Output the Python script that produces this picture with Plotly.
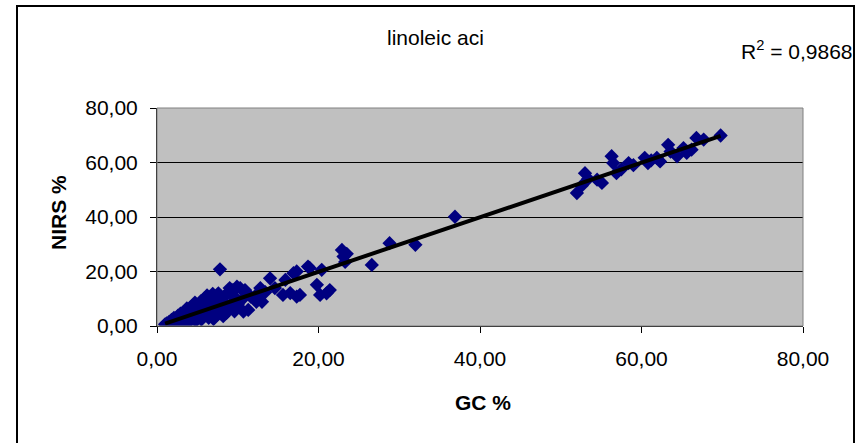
import numpy as np
import plotly.graph_objects as go

# GC % (x) and NIRS % (y) values
gc_low = [1.0, 1.2, 1.3, 1.5, 1.6, 1.8, 1.9, 2.0, 2.1, 2.2, 2.3, 2.4, 2.5, 2.6, 2.7, 2.8, 2.9,
          3.0, 3.1, 3.2, 3.3, 3.4, 3.5, 3.6, 3.7, 3.8, 3.9, 4.0, 4.1, 4.2, 4.3, 4.4, 4.5,
          4.6, 4.7, 4.8, 4.9, 5.0, 5.1, 5.2, 5.3, 5.4, 5.5, 5.6, 5.7, 5.8, 5.9, 6.0, 6.1,
          6.2, 6.3, 6.4, 6.5, 6.6, 6.7, 6.8, 6.9, 7.0, 7.1, 7.2, 7.3, 7.4, 7.5, 7.6, 7.8,
          7.9, 8.0, 8.2, 8.3, 8.4, 8.6, 8.8, 8.9, 9.0, 9.2, 9.4, 9.6, 9.7, 9.9, 10.0, 10.3,
          10.5, 10.7, 10.9, 11.3, 11.6, 12.3, 12.3, 12.8, 13.0, 13.4]
nirs_low = [0.6, 1.0, 0.3, 1.5, 0.8, 2.2, 0.5, 1.2, 3.0, 0.2, 1.8, 2.6, 0.9, 3.8, 1.5, 2.3, 4.5,
            0.8, 3.2, 1.9, 5.0, 2.8, 1.2, 4.0, 6.5, 2.4, 3.5, 1.6, 5.4, 4.2, 7.2, 2.9, 6.0,
            3.8, 8.6, 1.9, 5.0, 7.0, 3.3, 6.3, 4.5, 9.0, 2.4, 5.8, 7.6, 3.8, 10.2, 6.6, 4.9,
            11.2, 8.2, 3.0, 6.0, 9.4, 5.2, 7.4, 11.8, 2.6, 8.6, 6.2, 10.0, 4.0, 7.8, 12.0, 20.8,
            5.6, 9.4, 3.6, 7.0, 11.0, 4.8, 6.0, 12.6, 13.9, 8.2, 13.2, 5.4, 10.4, 14.4, 7.8, 13.9,
            9.6, 5.3, 13.2, 5.9, 10.8, 8.9, 11.4, 13.9, 8.9, 12.4]

gc_mid = [14.0, 14.6, 15.6, 15.9, 16.5, 16.9, 17.3, 17.3, 17.7, 18.7, 18.9, 19.8, 20.2, 20.4,
          21.0, 21.4, 22.9, 23.1, 23.3, 23.5, 26.6, 28.8, 32.0, 36.9]
nirs_mid = [17.5, 13.9, 11.4, 16.9, 12.1, 19.4, 10.8, 20.0, 11.4, 21.8, 21.3, 15.1, 11.4, 20.6,
            12.0, 13.2, 27.9, 25.5, 23.5, 26.5, 22.4, 30.4, 29.8, 40.1]

gc_high = [52.0, 52.6, 53.0, 53.4, 54.5, 55.1, 56.3, 56.5, 56.9, 57.5, 58.4, 59.0, 60.4, 60.8,
           61.2, 61.9, 62.3, 63.3, 63.6, 64.4, 65.2, 65.6, 66.2, 66.8, 67.7, 69.8]
nirs_high = [48.8, 51.5, 56.1, 54.0, 53.7, 52.5, 62.3, 59.8, 56.1, 57.5, 59.8, 59.0, 61.7, 59.8,
             60.8, 61.7, 60.4, 66.5, 64.0, 62.3, 65.3, 63.5, 64.7, 69.0, 68.4, 69.9]

gc = gc_low + gc_mid + gc_high
nirs = nirs_low + nirs_mid + nirs_high

axis_ticks = [0, 20, 40, 60, 80]
chart_title = "linoleic aci"
r2_label = "R<sup>2</sup> = 0,9868"

# linear trendline fitted to the data
slope, intercept = np.polyfit(gc, nirs, 1)
tx = np.array([min(gc), max(gc)])
ty = slope * tx + intercept

FONT = "Liberation Sans, Arial, sans-serif"
FS = 21

fig = go.Figure()
fig.add_trace(go.Scatter(
    x=gc, y=nirs, mode="markers",
    marker=dict(symbol="diamond", size=11, color="#000080", line=dict(width=0)),
    showlegend=False, hoverinfo="x+y"))
fig.add_trace(go.Scatter(
    x=tx, y=ty, mode="lines",
    line=dict(color="black", width=4),
    showlegend=False, hoverinfo="skip"))

W, H = 866, 443
L, T = 157, 108
pw, ph = 646, 218
R = W - L - pw
B = H - T - ph

def px(xs):
    return (xs - L) / pw

def py(ys):
    return (T + ph - ys) / ph

frame = dict(color="black", width=2)
RIGHT = 854

fig.update_layout(
    width=W, height=H,
    margin=dict(l=L, r=R, t=T, b=B, pad=0),
    paper_bgcolor="white", plot_bgcolor="#C0C0C0",
    separators=",.",
    font=dict(family=FONT, size=FS, color="black"),
    xaxis=dict(range=[0, 80], tickvals=axis_ticks, tickformat=".2f",
               showgrid=False, zeroline=False, showline=True, linecolor="black",
               linewidth=1, ticks="outside", ticklen=6, tickcolor="black",
               ticklabelstandoff=8, fixedrange=True),
    yaxis=dict(range=[0, 80], tickvals=axis_ticks, tickformat=".2f",
               showgrid=True, gridcolor="black", gridwidth=1, zeroline=False,
               showline=True, linecolor="black", linewidth=1,
               ticks="outside", ticklen=6, tickcolor="black",
               ticklabelstandoff=8, fixedrange=True),
    shapes=[
        dict(type="rect", xref="paper", yref="paper", x0=0, x1=1, y0=0, y1=1,
             line=dict(color="#808080", width=1), fillcolor="rgba(0,0,0,0)", layer="above"),
        dict(type="rect", xref="paper", yref="paper",
             x0=px(17), x1=px(RIGHT), y0=py(446), y1=py(6),
             line=frame, fillcolor="rgba(0,0,0,0)", layer="above"),
    ],
    annotations=[
        dict(text=chart_title, xref="paper", yref="paper", x=px(435), y=py(38),
             xanchor="center", yanchor="middle", showarrow=False,
             font=dict(family=FONT, size=FS)),
        dict(text=r2_label, xref="paper", yref="paper", x=px(RIGHT + 1), y=py(50),
             xanchor="right", yanchor="middle", showarrow=False,
             font=dict(family=FONT, size=FS)),
        dict(text="<b>GC %</b>", xref="paper", yref="paper", x=px(483), y=py(402),
             xanchor="center", yanchor="middle", showarrow=False,
             font=dict(family=FONT, size=FS)),
        dict(text="<b>NIRS %</b>", xref="paper", yref="paper", x=px(58), y=py(213),
             xanchor="center", yanchor="middle", showarrow=False, textangle=-90,
             font=dict(family=FONT, size=FS)),
    ],
)

fig.write_html("out.html", config={"displayModeBar": False},
               post_script="document.body.style.margin='0';document.body.style.overflow='hidden';")
